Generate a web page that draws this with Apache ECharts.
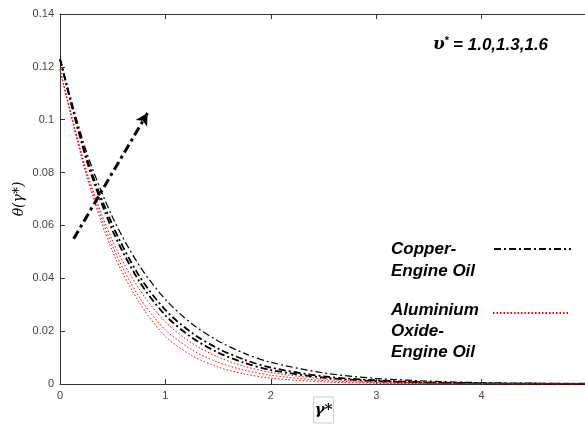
<!DOCTYPE html>
<html>
<head>
<meta charset="utf-8">
<script src="https://cdn.jsdelivr.net/npm/echarts@6/dist/echarts.min.js"></script>
<style>
  html, body { margin: 0; padding: 0; background: #fff; overflow: hidden; }
  #chart { width: 585px; height: 426px; }
</style>
</head>
<body>
<div id="chart"></div>
<script>
// gamma* positions
const xs = [0, 0.25, 0.5, 0.75, 1, 1.25, 1.5, 1.75, 2, 2.5, 3, 3.5, 4, 4.5, 5];

// Copper - Engine Oil (three values of upsilon*)
const copperA = [0.123, 0.088, 0.063, 0.045, 0.032, 0.0228, 0.0163, 0.0116, 0.0082, 0.0042, 0.0021, 0.0011, 0.0005, 0.0003, 0.0001];
const copperB = [0.123, 0.086, 0.060, 0.041, 0.028, 0.0194, 0.0134, 0.0092, 0.0062, 0.0029, 0.0014, 0.0006, 0.0003, 0.0001, 0.0001];
const copperC = [0.123, 0.085, 0.058, 0.039, 0.026, 0.0176, 0.0119, 0.0080, 0.0053, 0.0024, 0.0011, 0.0005, 0.0002, 0.0001, 0];

// Aluminium Oxide - Engine Oil
const aluA = [0.119, 0.081, 0.054, 0.036, 0.0235, 0.0155, 0.0102, 0.0067, 0.0044, 0.0019, 0.0008, 0.0004, 0.0002, 0.0001, 0];
const aluB = [0.119, 0.080, 0.052, 0.033, 0.0205, 0.0130, 0.0082, 0.0052, 0.0033, 0.0013, 0.0005, 0.0002, 0.0001, 0, 0];
const aluC = [0.119, 0.079, 0.050, 0.031, 0.0180, 0.0108, 0.0064, 0.0038, 0.0022, 0.0008, 0.0003, 0.0001, 0, 0, 0];

// annotation arrow (start, end) in data units
const arrowPts = [[0.13, 0.055], [0.83, 0.1025]];

const COPPER = "Copper-Engine Oil";
const ALU = "Aluminium Oxide-Engine Oil";

const chart = echarts.init(document.getElementById("chart"));

const pair = (ys) => xs.map((x, i) => [x, ys[i]]);

const copperLine = (ys, w) => ({
  name: COPPER,
  type: "line",
  data: pair(ys),
  symbol: "none",
  smooth: 0.3,
  silent: true,
  color: "#000",
  lineStyle: { color: "#000", width: w, type: [7, 3, 2, 3] },
});

const aluLine = (ys) => ({
  name: ALU,
  type: "line",
  data: pair(ys),
  symbol: "none",
  smooth: 0.3,
  silent: true,
  color: "#ff0000",
  lineStyle: { color: "#ff0000", width: 1, type: [1.5, 2] },
});

const labelFont = "italic bold 17px 'Liberation Sans', Arial";
const tickFont = { fontFamily: "Liberation Sans, Arial", fontSize: 11, color: "#444" };

const option = {
  animation: false,
  backgroundColor: "#fff",
  grid: { left: 60, top: 14, right: -2, bottom: 42, containLabel: false, outerBoundsMode: "none" },
  xAxis: [
    {
      type: "value",
      min: 0,
      max: 5,
      interval: 1,
      name: "γ*",
      nameLocation: "middle",
      nameGap: 13,
      nameMoveOverlap: false,
      nameTextStyle: {
        fontFamily: "DejaVu Serif",
        fontSize: 15,
        fontStyle: "italic",
        fontWeight: "bold",
        color: "#000",
        borderColor: "#ccc",
        borderWidth: 1,
        padding: [6, 1, 5, 1],
      },
      axisLine: { lineStyle: { color: "#333" } },
      axisTick: { inside: true, length: 5, lineStyle: { color: "#333" } },
      axisLabel: { ...tickFont, margin: 6, showMaxLabel: false },
      splitLine: { show: false },
    },
    {
      type: "value",
      position: "top",
      min: 0,
      max: 5,
      interval: 1,
      axisLine: { lineStyle: { color: "#333" } },
      axisTick: { inside: true, length: 5, lineStyle: { color: "#333" } },
      axisLabel: { show: false },
      splitLine: { show: false },
    },
  ],
  yAxis: {
    type: "value",
    min: 0,
    max: 0.14,
    interval: 0.02,
    name: "θ(γ*)",
    nameLocation: "middle",
    nameRotate: 90,
    nameGap: 34,
    nameMoveOverlap: false,
    nameTextStyle: { fontFamily: "DejaVu Serif", fontSize: 14, fontStyle: "italic", color: "#000" },
    axisLine: { show: true, lineStyle: { color: "#333" } },
    axisTick: { show: true, inside: true, length: 5, lineStyle: { color: "#333" } },
    axisLabel: { ...tickFont, margin: 6 },
    splitLine: { show: false },
  },
  legend: [
    {
      data: [COPPER],
      left: 493,
      top: 243,
      itemWidth: 77,
      itemHeight: 12,
      itemStyle: { opacity: 0 },
      formatter: () => "",
      selectedMode: false,
      padding: 0,
    },
    {
      data: [ALU],
      left: 492,
      top: 307,
      itemWidth: 75,
      itemHeight: 12,
      itemStyle: { opacity: 0 },
      formatter: () => "",
      selectedMode: false,
      padding: 0,
    },
  ],
  graphic: [
    {
      type: "text",
      left: 433,
      top: 35,
      style: {
        rich: {
          v: { fontFamily: "DejaVu Serif", fontSize: 17, fontWeight: "bold", fontStyle: "italic", fill: "#000" },
          s: { fontFamily: "Liberation Sans", fontSize: 11, fontWeight: "bold", verticalAlign: "top", padding: [0, 4, 9, 0], fill: "#000" },
          t: { fontFamily: "Liberation Sans", fontSize: 17, fontWeight: "bold", fontStyle: "italic", fill: "#000" },
        },
        text: "{v|υ}{s|*}{t|= 1.0,1.3,1.6}",
      },
    },
    {
      type: "text",
      left: 391,
      top: 238,
      style: { text: "Copper-\nEngine Oil", font: labelFont, fill: "#000", lineHeight: 22 },
    },
    {
      type: "text",
      left: 391,
      top: 300,
      style: { text: "Aluminium\nOxide-\nEngine Oil", font: labelFont, fill: "#000", lineHeight: 21 },
    },
  ],
  series: [
    copperLine(copperA, 1.2),
    copperLine(copperB, 1.8),
    copperLine(copperC, 1.8),
    aluLine(aluA),
    aluLine(aluB),
    aluLine(aluC),
    {
      name: "arrow",
      type: "line",
      data: [],
      silent: true,
      markLine: {
        silent: true,
        symbol: ["none", "arrow"],
        symbolSize: [10, 12],
        label: { show: false },
        lineStyle: { color: "#000", width: 3, type: [9, 4, 3, 4] },
        data: [[{ coord: arrowPts[0] }, { coord: arrowPts[1] }]],
      },
    },
  ],
};

chart.setOption(option);
</script>
</body>
</html>
